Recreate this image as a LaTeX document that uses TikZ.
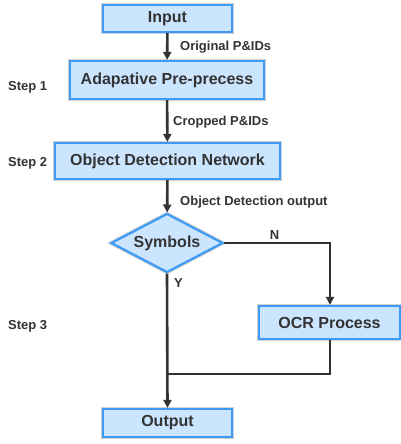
\documentclass[tikz,border=0pt]{standalone}
\usepackage{fontspec}
\setmainfont{Liberation Sans}
\usetikzlibrary{shapes.geometric,arrows.meta}
\definecolor{boxfill}{HTML}{CCE5FF}
\definecolor{boxline}{HTML}{3D9BF5}
\definecolor{ink}{HTML}{333333}
\tikzset{
  box/.style={draw=boxline, fill=boxfill, line width=2.2pt, text=ink,
    font=\bfseries\fontsize{16}{18}\selectfont, inner sep=0pt,
    preaction={draw=black!18, line width=4.2pt}},
  dec/.style={diamond, draw=boxline, fill=boxfill, line width=2.2pt, text=ink,
    font=\bfseries\fontsize{16}{18}\selectfont, inner sep=0pt, aspect=1.9,
    preaction={draw=black!18, line width=4.2pt}},
  lbl/.style={text=ink, font=\bfseries\fontsize{13}{15}\selectfont, inner sep=0pt},
  flow/.style={draw=ink, line width=2.6pt, -{Triangle[length=8pt,width=8pt]}},
  seg/.style={draw=ink, line width=2.6pt}
}
\begin{document}
\begin{tikzpicture}[x=1pt,y=-1pt]
\useasboundingbox (0,0) rectangle (401,444);
\node[box, minimum width=129pt, minimum height=27pt] (in) at (167.5,18.5) {Input};
\node[box, minimum width=194pt, minimum height=38pt] (pre) at (167,80) {Adapative Pre-precess};
\node[box, minimum width=225pt, minimum height=36pt] (odn) at (167.5,161) {Object Detection Network};
\node[dec, minimum width=112pt, minimum height=59pt] (sym) at (167,243) {Symbols};
\node[box, minimum width=141pt, minimum height=33pt] (ocr) at (329.5,322.5) {OCR Process};
\node[box, minimum width=129pt, minimum height=28pt] (out) at (167.5,423) {Output};

\node[lbl, anchor=west] (l1) at (180,47) {Original P\&IDs};
\node[lbl, anchor=west] (l2) at (173,122) {Cropped P\&IDs};
\node[lbl, anchor=west] (l3) at (180,202) {Object Detection output};
\node[lbl] (ln) at (274.5,235) {N};
\node[lbl] (ly) at (178.5,283) {Y};
\node[lbl, anchor=west] (s1) at (8,87) {Step 1};
\node[lbl, anchor=west] (s2) at (8,163) {Step 2};
\node[lbl, anchor=west] (s3) at (8,326) {Step 3};

\coordinate (nturn) at (330,243);
\coordinate (merge) at (167,374);
\coordinate (mr) at (330,374);

\draw[flow] (in) -- (pre);
\draw[flow] (pre) -- (odn);
\draw[flow] (odn) -- (sym);
\draw[flow] (sym.east) -- (nturn) -- (ocr.north -| nturn);
\draw[flow] (sym.south) -- (out.north);
\draw[seg] (ocr.south -| mr) -- (mr) -- (merge);
\end{tikzpicture}
\end{document}
